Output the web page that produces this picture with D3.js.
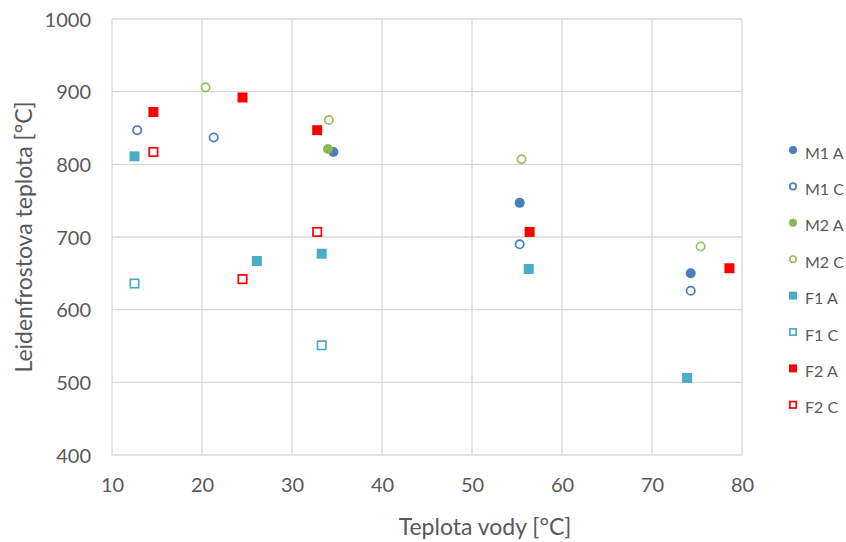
<!DOCTYPE html>
<html><head><meta charset="utf-8">
<script src="https://cdn.jsdelivr.net/npm/d3@7"></script>
<style>body{margin:0;background:#fff}svg{display:block}text{font-family:Lato,"Open Sans",sans-serif;fill:#595959}</style>
</head><body><svg id="c" width="846" height="542"></svg>
<script>
const seriesNames = ["M1 A","M1 C","M2 A","M2 C","F1 A","F1 C","F2 A","F2 C"];
const seriesX = [
  [34.6, 55.3, 74.3],
  [12.8, 21.3, 55.3, 74.3],
  [34.0],
  [20.4, 34.1, 55.5, 75.4],
  [12.5, 26.1, 33.3, 56.3, 73.9],
  [12.5, 33.3],
  [14.6, 24.5, 32.8, 56.4, 78.6],
  [14.6, 24.5, 32.8]
];
const seriesY = [
  [817, 747, 650],
  [847, 837, 690, 626],
  [821],
  [906, 861, 807, 687],
  [811, 667, 677, 656, 506],
  [636, 551],
  [872, 892, 847, 707, 657],
  [817, 642, 707]
];
const seriesShape = ["circle","circle","circle","circle","square","square","square","square"];
const seriesFilled = [true,false,true,false,true,false,true,false];
const seriesColor = ["#4a7ebf","#4a7ebf","#8cb94f","#9bc064","#4bacc6","#4bacc6","#ff0000","#ff0000"];
const xTicks = [10,20,30,40,50,60,70,80];
const yTicks = [400,500,600,700,800,900,1000];
const xTitle = "Teplota vody [°C]";
const yTitle = "Leidenfrostova teplota [°C]";

const svg = d3.select("#c");
const x = d3.scaleLinear().domain([10,80]).range([112,742]);
const y = d3.scaleLinear().domain([400,1000]).range([455,19]);

const g = svg.append("g");
g.selectAll("line.vg").data(xTicks).join("line")
  .attr("x1",d=>x(d)).attr("x2",d=>x(d)).attr("y1",y(1000)).attr("y2",y(400))
  .attr("stroke","#d9d9d9").attr("stroke-width",1.3);
g.selectAll("line.hg").data(yTicks).join("line")
  .attr("y1",d=>y(d)).attr("y2",d=>y(d)).attr("x1",x(10)).attr("x2",x(80))
  .attr("stroke","#d9d9d9").attr("stroke-width",1.3);

const xAxis = d3.axisBottom(x).tickValues(xTicks).tickFormat(d3.format("d")).tickSize(0).tickPadding(0);
const xa = svg.append("g").attr("transform","translate(0,485)").call(xAxis);
xa.select(".domain").remove();
xa.selectAll("text").attr("font-size",20).attr("dy","0.35em").attr("y",0);

const yAxis = d3.axisLeft(y).tickValues(yTicks).tickFormat(d3.format("d")).tickSize(0).tickPadding(0);
const ya = svg.append("g").attr("transform","translate(91,0)").call(yAxis);
ya.select(".domain").remove();
ya.selectAll("text").attr("font-size",20).attr("dy","0.35em").attr("x",0);

svg.append("text").attr("x",485).attr("y",526).attr("text-anchor","middle")
  .attr("dominant-baseline","central").attr("font-size",23).text(xTitle);
svg.append("text").attr("transform","translate(23,237) rotate(-90)").attr("text-anchor","middle")
  .attr("dominant-baseline","central").attr("font-size",23).text(yTitle);

function drawMarker(sel, shape, filled, color, size){
  if(shape==="circle"){
    const r = filled ? size/2 : size/2 - 0.8;
    sel.append("circle").attr("r",r)
      .attr("fill",filled?color:"#fff").attr("stroke",color).attr("stroke-width",filled?0:1.7);
  } else {
    const s = filled ? size : size - 1.6;
    sel.append("rect").attr("x",-s/2).attr("y",-s/2).attr("width",s).attr("height",s)
      .attr("fill",filled?color:"#fff").attr("stroke",color).attr("stroke-width",filled?0:1.7);
  }
}

seriesNames.forEach((name,i)=>{
  const pts = seriesX[i].map((v,j)=>[v,seriesY[i][j]]);
  const sg = svg.append("g");
  pts.forEach(p=>{
    const m = sg.append("g").attr("transform",`translate(${x(p[0])},${y(p[1])})`);
    drawMarker(m, seriesShape[i], seriesFilled[i], seriesColor[i], 10);
  });
});

const legend = svg.append("g");
seriesNames.forEach((name,i)=>{
  const ly = 150 + i*36.4;
  const m = legend.append("g").attr("transform",`translate(793,${ly})`);
  drawMarker(m, seriesShape[i], seriesFilled[i], seriesColor[i], 8);
  legend.append("text").attr("x",805).attr("y",ly+2).attr("dominant-baseline","central")
    .attr("font-size",16).text(name);
});
</script></body></html>
